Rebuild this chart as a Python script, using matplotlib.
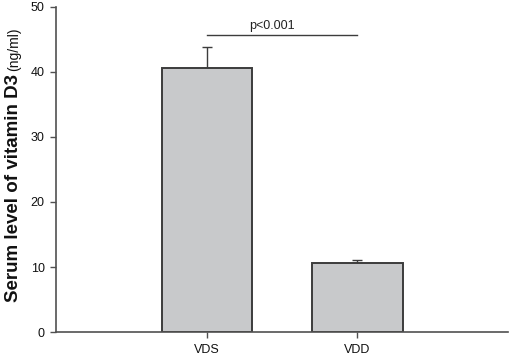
import matplotlib
matplotlib.use("Agg")
import matplotlib.pyplot as plt

plt.rcParams["font.family"] = ["Liberation Sans", "DejaVu Sans"]

groups = ["VDS", "VDD"]
means = [40.6, 10.6]
errs = [3.3, 0.5]
sig_y = 45.7
sig_text = "p<0.001"

AXIS = "#505050"
BAR = "#c8c9cb"
INK = "#111111"

fig = plt.figure(figsize=(5.1, 3.56), dpi=100)
ax = fig.add_axes([0.110, 0.0674, 0.886, 0.913])

xpos = [1, 2]
ax.bar(xpos, means, width=0.6, color=BAR, edgecolor="#3c3c3c", linewidth=1.4, zorder=2)
ax.errorbar(xpos, means, yerr=[[0, 0], errs], fmt="none", ecolor="#3c3c3c",
            elinewidth=1.0, capsize=3.5, capthick=1.0, zorder=1)

ax.plot([1, 2], [sig_y, sig_y], color="#3c3c3c", linewidth=1.0)
ax.text(1.43, sig_y + 0.4, sig_text, ha="center", va="bottom", fontsize=9, color="#222222")

ax.set_xlim(0, 3)
ax.set_ylim(0, 50)
ax.set_xticks(xpos)
ax.set_xticklabels(groups)
ax.set_yticks(range(0, 51, 10))

for side in ["top", "right"]:
    ax.spines[side].set_visible(False)
for side in ["left", "bottom"]:
    ax.spines[side].set_color(AXIS)
    ax.spines[side].set_linewidth(1.2)

ax.tick_params(axis="both", direction="out", length=4.3, width=1.0, color=AXIS,
               labelsize=9, labelcolor=INK, pad=4)

# two-part y label: bold title + regular unit, sharing one baseline
W, H = 510, 356
base_x = 18.5 / W
t1 = fig.text(base_x, 1 - 302 / H, "Serum level of vitamin D3", rotation=90,
              rotation_mode="anchor", ha="left", va="baseline",
              fontsize=13.5, fontweight="bold", color=INK)
fig.canvas.draw()
top = t1.get_window_extent().y1
fig.text(base_x, (top + 3) / H, "(ng/ml)", rotation=90,
         rotation_mode="anchor", ha="left", va="baseline",
         fontsize=10, color=INK)

fig.savefig("out.png", dpi=100)
